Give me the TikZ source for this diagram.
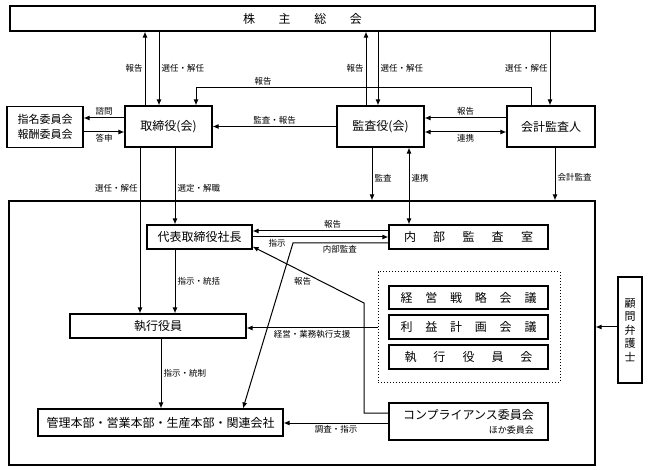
\documentclass[tikz,border=0pt]{standalone}
\usepackage{fontspec}
\setmainfont{Noto Sans CJK JP}
\usetikzlibrary{arrows.meta}
\newcommand{\sptext}[2]{\makebox[#1][s]{#2}}

\begin{document}
\begin{tikzpicture}[x=1pt,y=-1pt,>={Latex[length=6pt,width=5pt]},
		box/.style={draw,line width=1.1pt,inner sep=0pt,font=\fontsize{12}{14}\selectfont},
		lbl/.style={font=\fontsize{8.5}{10}\selectfont,inner sep=2pt},
		every path/.style={line width=1pt}]
		\useasboundingbox (0,0) rectangle (648,470);
		\node[box,minimum width=585pt,minimum height=25pt] (kabu)at(302.5,18.5) {\sptext{119pt}{株 主 総 会}};
		\node[box,minimum width=87pt,minimum height=41pt] (tori)at(168.5,126.5) {取締役(会)};
		\node[box,minimum width=76pt,minimum height=41pt,align=center,font=\fontsize{11}{15}\selectfont] (shimei)at(45,127) {指名委員会\\報酬委員会};
		\node[box,minimum width=87pt,minimum height=41pt] (kansa)at(380.5,126.5) {監査役(会)};
		\node[box,minimum width=88pt,minimum height=41pt] (kaikei)at(551,126.5) {会計監査人};
		\node[box,minimum width=586pt,minimum height=264pt] (shanai)at(302,333) {};
		\node[box,minimum width=105pt,minimum height=24pt] (daihyo)at(199.5,237) {代表取締役社長};
		\node[box,minimum width=159pt,minimum height=24pt] (naibu)at(468.5,237) {\sptext{129pt}{内 部 監 査 室}};
		\node[box,minimum width=176pt,minimum height=24pt] (shikko)at(158,326) {執行役員};
		\node[draw,dotted,line width=1pt,minimum width=182pt,minimum height=110pt] (kaigi)at(469,327) {};
		\node[box,minimum width=159pt,minimum height=23pt] (keiei)at(468.5,297.5) {\sptext{136pt}{経 営 戦 略 会 議}};
		\node[box,minimum width=159pt,minimum height=24pt] (rieki)at(468.5,327) {\sptext{136pt}{利 益 計 画 会 議}};
		\node[box,minimum width=159pt,minimum height=24pt] (shikkokai)at(468.5,357) {\sptext{128pt}{執 行 役 員 会}};
		\node[box,minimum width=159pt,minimum height=37pt,align=right] (comp)at(468.5,421.5) {コンプライアンス委員会\\{\fontsize{9}{11}\selectfont ほか委員会}};
		\node[box,minimum width=245pt,minimum height=27pt] (kanri)at(160.5,422.5) {管理本部・営業本部・生産本部・関連会社};
		\node[box,minimum width=24pt,minimum height=106pt,align=center,font=\fontsize{11}{13.5}\selectfont] (komon)at(630,330) {顧\\問\\弁\\護\\士};
		
		\draw[->] (tori.north -| 145,0) -- node[lbl,left] {報告} (kabu.south -| 145,0);
		\draw[->] (kabu.south -| 159,0) -- node[lbl,right] {選任・解任} (tori.north -| 159,0);
		\draw[->] (kansa.north -| 366,0) -- node[lbl,left] {報告} (kabu.south -| 366,0);
		\draw[->] (kabu.south -| 378,0) -- node[lbl,right] {選任・解任} (kansa.north -| 378,0);
		\draw[->] (kabu.south -| 550,0) -- node[lbl,left] {選任・解任} (kaikei.north -| 550,0);
		\draw[->] (kaikei.north -| 531,0) -- (531,88) -- node[lbl,above,pos=0.8] {報告} (196,88) -- (tori.north -| 196,0);
		\draw[->] (kansa.west) -- node[lbl,above] {監査・報告} (tori.east);
		\draw[->] (tori.west |- 0,118) -- node[lbl,above] {諮問} (shimei.east |- 0,118);
		\draw[->] (shimei.east |- 0,132) -- node[lbl,below] {答申} (tori.west |- 0,132);
		\draw[->] (kaikei.west |- 0,118) -- node[lbl,above] {報告} (kansa.east |- 0,118);
		\draw[<->] (kansa.east |- 0,132) -- node[lbl,below] {連携} (kaikei.west |- 0,132);
		
		\draw[->] (tori.south -| 140,0) -- node[lbl,left,pos=0.245] {選任・解任} (shikko.north -| 140,0);
		\draw[->] (tori.south -| 175,0) -- node[lbl,right,pos=0.53] {選定・解職} (daihyo.north -| 175,0);
		\draw[->] (kansa.south -| 372,0) -- node[lbl,right,pos=0.57] {監査} (shanai.north -| 372,0);
		\draw[<->] (kansa.south -| 409,0) -- node[lbl,right,pos=0.4] {連携} (naibu.north -| 409,0);
		\draw[->] (kaikei.south -| 555,0) -- node[lbl,right,pos=0.57] {会計監査} (shanai.north -| 555,0);
		
		\draw[->] (naibu.west |- 0,231) -- node[lbl,above,pos=0.41] {報告} (daihyo.east |- 0,231);
		\draw[->] (daihyo.east |- 0,237) -- node[lbl,below,pos=0.18] {指示} (naibu.west |- 0,237);
		\draw[->] (naibu.west |- 0,243) -- node[lbl,below,pos=0.51] {内部監査} (293,243) -- (kanri.north -| 243,0);
		\draw[->] (comp.west |- 0,413) -- (364,413) -- (364,303) -- node[lbl,below=3pt,pos=0.55] {報告} ([yshift=3pt]daihyo.south east);
		\draw[->] (daihyo.south -| 175,0) -- node[lbl,right] {指示・統括} (shikko.north -| 175,0);
		\draw[->] (kaigi.west |- 0,328) -- node[lbl,below] {経営・業務執行支援} (shikko.east |- 0,328);
		\draw[->] (shikko.south -| 161,0) -- node[lbl,right] {指示・統制} (kanri.north -| 161,0);
		\draw[->] (comp.west |- 0,423) -- node[lbl,below] {調査・指示} (kanri.east |- 0,423);
		\draw[->] (komon.west |- 0,327) -- (shanai.east |- 0,327);
		
		\end{tikzpicture}
\end{document}
